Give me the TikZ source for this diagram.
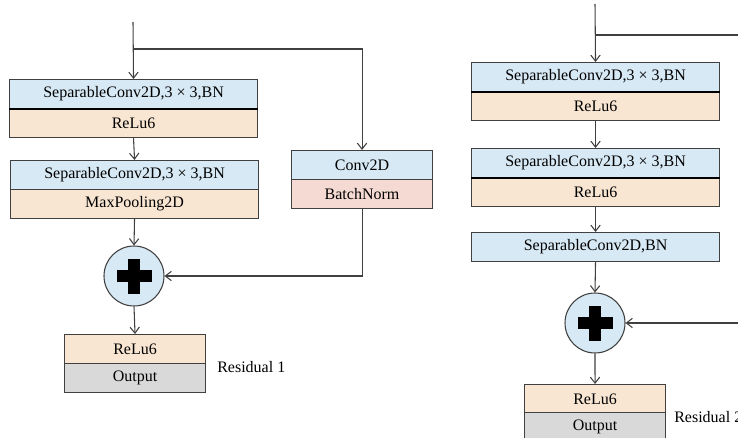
\documentclass[tikz,border=0pt]{standalone}
\usepackage{fontspec}
\setmainfont{Liberation Serif}
\usetikzlibrary{arrows.meta}
\definecolor{cblue}{HTML}{D7E9F4}
\definecolor{corange}{HTML}{F8E6D3}
\definecolor{cpink}{HTML}{F5DAD4}
\definecolor{cgray}{HTML}{D9D9D9}
\definecolor{cline}{HTML}{404040}
\begin{document}
\begin{tikzpicture}[x=0.75pt,y=-0.75pt,
  half/.style={draw=cline,line width=0.8pt,rectangle,anchor=north west,inner sep=0pt,font=\fontsize{12}{14}\selectfont},
  wide/.style={half,minimum width=186pt,minimum height=21.75pt},
  narrow/.style={half,minimum width=105.75pt,minimum height=21.75pt},
  arr/.style={draw=cline,line width=0.8pt,-{Straight Barb[length=4.5pt,width=7pt]}},
  ln/.style={draw=cline,line width=0.8pt},
  sum/.style={circle,draw=cline,line width=0.8pt,fill=cblue,minimum size=45pt,inner sep=0pt},
  lbl/.style={anchor=west,inner sep=0pt,font=\fontsize{12}{14}\selectfont}]
\useasboundingbox (0,0) rectangle (738,438);
\clip (0,0) rectangle (738,438);
% left branch
\node[wide,fill=cblue] (a1) at (9,79) {SeparableConv2D,3 × 3,BN};
\node[wide,fill=corange] (a2) at (9,108) {ReLu6};
\draw[black,line width=1.2pt] (a1.south west) -- (a1.south east);
\node[wide,fill=cblue] (b1) at (10,160) {SeparableConv2D,3 × 3,BN};
\node[wide,fill=corange] (b2) at (10,189) {MaxPooling2D};
\node[narrow,fill=cblue] (c1) at (291,150) {Conv2D};
\node[narrow,fill=cpink] (c2) at (291,179) {BatchNorm};
\node[sum] (s1) at (134,276) {};
\fill (s1.center) ++(-17.5,-6) rectangle ++(35,12);
\fill (s1.center) ++(-6,-17.5) rectangle ++(12,35);
\node[narrow,fill=corange] (o1) at (64,334) {ReLu6};
\node[narrow,fill=cgray] (o2) at (64,363) {Output};
\node[lbl] (res1) at (217,367) {Residual 1};
\coordinate (inL) at (133,22);
\coordinate (brL) at (133,49);
\draw[arr] (inL) -- (a1.north);
\draw[arr] (brL) -| (c1.north);
\draw[arr] (a2.south) -- (b1.north);
\draw[arr] (b2.south) -- (s1.north);
\draw[arr] (c2.south) |- (s1.east);
\draw[arr] (s1.south) -- (o1.north);
% right branch
\node[wide,fill=cblue] (r1) at (471,62) {SeparableConv2D,3 × 3,BN};
\node[wide,fill=corange] (r2) at (471,91) {ReLu6};
\draw[black,line width=1.2pt] (r1.south west) -- (r1.south east);
\node[wide,fill=cblue] (r3) at (471,148) {SeparableConv2D,3 × 3,BN};
\node[wide,fill=corange] (r4) at (471,177) {ReLu6};
\draw[black,line width=1.2pt] (r3.south west) -- (r3.south east);
\node[wide,fill=cblue] (r5) at (471,232) {SeparableConv2D,BN};
\node[sum] (s2) at (595,323) {};
\fill (s2.center) ++(-17.5,-6) rectangle ++(35,12);
\fill (s2.center) ++(-6,-17.5) rectangle ++(12,35);
\node[narrow,fill=corange] (o3) at (524,384) {ReLu6};
\node[narrow,fill=cgray] (o4) at (524,412) {Output};
\node[lbl] (res2) at (674,417) {Residual 2};
\coordinate (inR) at (595,4);
\coordinate (brR) at (595,35);
\coordinate (brRend) at (745,35);
\coordinate (sumR) at (745,323);
\draw[arr] (inR) -- (r1.north);
\draw[ln] (brR) -- (brRend);
\draw[arr] (r2.south) -- (r3.north);
\draw[arr] (r4.south) -- (r5.north);
\draw[arr] (r5.south) -- (s2.north);
\draw[arr] (sumR) -- (s2.east);
\draw[arr] (s2.south) -- (o3.north);
\end{tikzpicture}
\end{document}
